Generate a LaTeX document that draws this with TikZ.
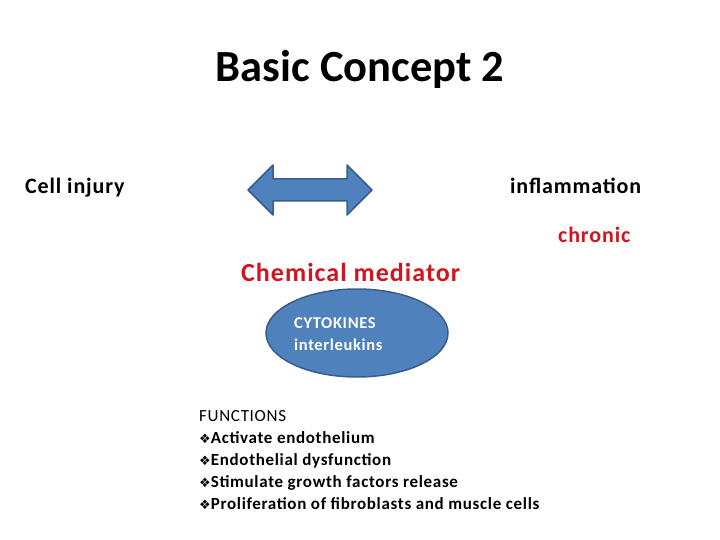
\documentclass[tikz,border=0pt]{standalone}
\usepackage{fontspec}
\setmainfont{Carlito}[LetterSpace=4]
\newfontfamily\titlefont{Carlito}
\newfontfamily\symfont{DejaVu Sans}
\usetikzlibrary{shapes.geometric}
\definecolor{fillblue}{RGB}{79,129,189}
\definecolor{edgeblue}{RGB}{56,93,138}
\definecolor{txtred}{RGB}{210,20,30}
\newcommand{\dia}{{\symfont\fontsize{13}{15}\selectfont ❖}}
\tikzset{
  lbl/.style={anchor=base west, inner sep=0pt, font=\fontsize{22}{24}\selectfont\bfseries},
  item/.style={anchor=base west, inner sep=0pt, font=\fontsize{17}{19}\selectfont\bfseries},
  intext/.style={anchor=base west, inner sep=0pt, text=white, font=\fontsize{16.5}{18}\selectfont\bfseries},
}
\begin{document}
\begin{tikzpicture}[x=1pt,y=-1pt]
\useasboundingbox (0,0) rectangle (720,540);
\node[anchor=base, inner sep=0pt, font=\titlefont\fontsize{44.5}{50}\selectfont\bfseries] (title) at (360,82) {Basic Concept 2};
\node[lbl] (cell) at (25,194) {Cell injury};
\node[lbl] (infl) at (510,194) {inflammation};
\node[lbl, text=txtred] (chronic) at (558,242) {chronic};
\node[lbl, text=txtred, font=\fontsize{26}{28}\selectfont\bfseries] (chem) at (241,281) {Chemical mediator};
% double arrow
\draw[fill=fillblue, draw=edgeblue, line width=1.5pt, line join=round]
  (248,190) -- (273,165) -- (273,179) -- (347,179) -- (347,165) -- (372,190)
  -- (347,215) -- (347,201) -- (273,201) -- (273,215) -- cycle;
\node[ellipse, fill=fillblue, draw=edgeblue, line width=1.5pt, minimum width=182pt, minimum height=88pt] (cyto) at (357,333) {};
\node[intext] (cyt1) at (294,328) {CYTOKINES};
\node[intext] (cyt2) at (294,350) {interleukins};
\node[anchor=base west, inner sep=0pt, font=\fontsize{17}{19}\selectfont] (fn) at (199,421) {FUNCTIONS};
\node[item] (f1) at (199,443) {\dia Activate endothelium};
\node[item] (f2) at (199,465) {\dia Endothelial dysfunction};
\node[item] (f3) at (199,487) {\dia Stimulate growth factors release};
\node[item] (f4) at (199,509) {\dia Proliferation of fibroblasts and muscle cells};
\end{tikzpicture}
\end{document}
